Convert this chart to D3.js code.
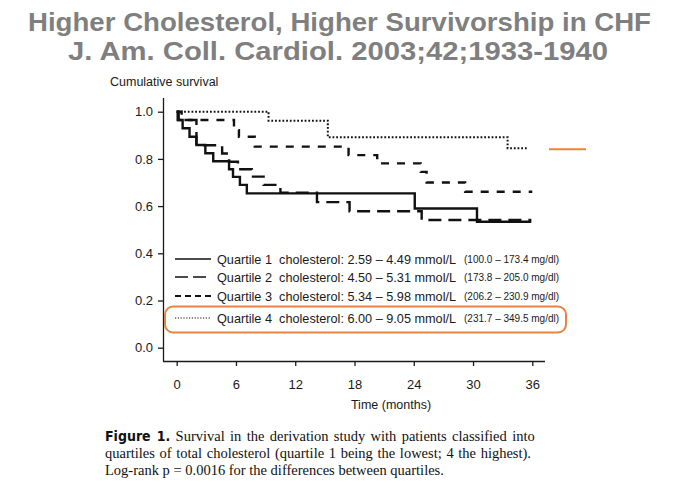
<!DOCTYPE html>
<html>
<head>
<meta charset="utf-8">
<script src="https://cdn.jsdelivr.net/npm/d3@7/dist/d3.min.js"></script>
<style>
  html, body { margin: 0; padding: 0; background: #fff; }
  svg { display: block; }
</style>
</head>
<body>
<svg id="chart" width="677" height="492"></svg>
<script>
// ---- Data ----
const titleLines = ["Higher Cholesterol, Higher Survivorship in CHF", "J. Am. Coll. Cardiol. 2003;42;1933-1940"];
const yLabel = "Cumulative survival";
const xLabel = "Time (months)";
const xTicks = [0, 6, 12, 18, 24, 30, 36];
const yTicks = [0.0, 0.2, 0.4, 0.6, 0.8, 1.0];

const q1Times = [0, 0.2, 0.6, 1.3, 2.0, 2.9, 3.7, 5.3, 5.7, 6.4, 7.1, 24.1, 30.4, 35.9];
const q1Surv  = [1.0, 0.965, 0.93, 0.894, 0.859, 0.824, 0.79, 0.756, 0.724, 0.69, 0.654, 0.59, 0.534, 0.534];
const q2Times = [0, 0.1, 2.0, 4.6, 5.3, 6.2, 7.6, 8.8, 10.5, 14.2, 17.5, 24.8, 35.9];
const q2Surv  = [1.0, 0.965, 0.858, 0.823, 0.788, 0.756, 0.725, 0.69, 0.657, 0.617, 0.578, 0.541, 0.541];
const q3Times = [0, 0.5, 5.8, 6.3, 7.9, 17.4, 20.3, 24.7, 25.3, 29.2, 36.0];
const q3Surv  = [1.0, 0.965, 0.922, 0.894, 0.852, 0.816, 0.781, 0.745, 0.70, 0.661, 0.661];
const q4Times = [0, 9.3, 15.3, 33.5, 35.6];
const q4Surv  = [1.0, 0.962, 0.892, 0.845, 0.845];

const quartileNames = ["Quartile 1", "Quartile 2", "Quartile 3", "Quartile 4"];
const mmolRanges = ["cholesterol: 2.59 \u2013 4.49 mmol/L", "cholesterol: 4.50 \u2013 5.31 mmol/L", "cholesterol: 5.34 \u2013 5.98 mmol/L", "cholesterol: 6.00 \u2013 9.05 mmol/L"];
const mgRanges = ["(100.0 \u2013 173.4 mg/dl)", "(173.8 \u2013 205.0 mg/dl)", "(206.2 \u2013 230.9 mg/dl)", "(231.7 \u2013 349.5 mg/dl)"];

const captionBold = "Figure 1.";
const captionLines = [
  " Survival in the derivation study with patients classified into",
  "quartiles of total cholesterol (quartile 1 being the lowest; 4 the highest).",
  "Log-rank p = 0.0016 for the differences between quartiles."
];

// ---- Build ----
const series = [
  {times: q1Times, surv: q1Surv, dash: null, width: 2.4, lw: 1.6, ldash: null},
  {times: q2Times, surv: q2Surv, dash: "13,7", width: 2.4, lw: 1.6, ldash: "13,5"},
  {times: q3Times, surv: q3Surv, dash: "8,8", width: 2.4, lw: 1.8, ldash: "6,4"},
  {times: q4Times, surv: q4Surv, dash: "1.8,1.9", width: 2.0, lw: 1.1, ldash: "1.2,1.6"}
];

const svg = d3.select("#chart");
svg.append("rect").attr("width", 677).attr("height", 492).attr("fill", "#fff");

const x = d3.scaleLinear().domain([0, 36]).range([176.7, 532.3]);
const y = d3.scaleLinear().domain([0, 1]).range([347.7, 111.7]);

const ink = "#1a1a1a";
const sans = "Liberation Sans, Arial, Helvetica, sans-serif";

// Title
const titleWidths = [623, 540];
svg.selectAll("text.title").data(titleLines).enter().append("text")
  .attr("class", "title")
  .attr("x", (d, i) => i === 0 ? 28 : 68)
  .attr("y", (d, i) => 31 + i * 29)
  .attr("font-family", sans)
  .attr("font-weight", "bold")
  .attr("font-size", 26.5)
  .attr("fill", "#7f7f7f")
  .attr("textLength", (d, i) => titleWidths[i])
  .attr("lengthAdjust", "spacingAndGlyphs")
  .text(d => d);

// Y label
svg.append("text").attr("x", 110).attr("y", 86)
  .attr("font-family", sans).attr("font-size", 12.5).attr("fill", ink)
  .text(yLabel);

// Axes
const xAxis = d3.axisBottom(x).tickValues(xTicks).tickSize(5).tickPadding(14).tickFormat(d3.format("d"));
const gx = svg.append("g").attr("transform", "translate(0,361)").call(xAxis);
gx.select(".domain").attr("d", `M163,0.5H545`);
const yAxis = d3.axisLeft(y).tickValues(yTicks).tickSize(5).tickPadding(5).tickFormat(d3.format(".1f"));
const gy = svg.append("g").attr("transform", "translate(163,0)").call(yAxis);
gy.select(".domain").attr("d", `M0.5,98V361.5`);
[gx, gy].forEach(g => {
  g.selectAll(".domain").attr("stroke", ink).attr("stroke-width", 1.3);
  g.selectAll(".tick line").attr("stroke", ink).attr("stroke-width", 1.3);
  g.selectAll(".tick text").attr("font-family", sans).attr("font-size", 13).attr("fill", ink);
});

svg.append("text").attr("x", 391).attr("y", 409).attr("text-anchor", "middle")
  .attr("font-family", sans).attr("font-size", 12.5).attr("fill", ink)
  .text(xLabel);

// Curves
const line = d3.line().x(d => x(d[0])).y(d => y(d[1])).curve(d3.curveStepAfter);
series.forEach(s => {
  const pts = s.times.map((t, i) => [t, s.surv[i]]);
  svg.append("path").attr("d", line(pts))
    .attr("fill", "none").attr("stroke", "#111")
    .attr("stroke-width", s.width)
    .attr("stroke-dasharray", s.dash)
    .attr("stroke-linejoin", "miter");
});

// Legend
const legendRows = [259, 277, 296, 318];
quartileNames.forEach((q, i) => {
  const yy = legendRows[i];
  svg.append("line").attr("x1", 175).attr("x2", 211).attr("y1", yy).attr("y2", yy)
    .attr("stroke", "#111").attr("stroke-width", series[i].lw)
    .attr("stroke-dasharray", series[i].ldash);
  svg.append("text").attr("x", 217).attr("y", yy + 4.5)
    .attr("font-family", sans).attr("font-size", 12.7).attr("fill", ink)
    .attr("xml:space", "preserve")
    .text(q + "  " + mmolRanges[i]);
  svg.append("text").attr("x", 464).attr("y", yy + 4)
    .attr("font-family", sans).attr("font-size", 10).attr("fill", ink)
    .text(mgRanges[i]);
});

// Orange highlight box and marker
svg.append("rect").attr("x", 165).attr("y", 306.5).attr("width", 401).attr("height", 26)
  .attr("rx", 8).attr("ry", 8).attr("fill", "none")
  .attr("stroke", "#e8843f").attr("stroke-width", 2);
svg.append("line").attr("x1", 549).attr("x2", 586).attr("y1", y(0.845) + 1).attr("y2", y(0.845) + 1)
  .attr("stroke", "#f0803a").attr("stroke-width", 2);

// Caption
const serif = "Liberation Serif, Times New Roman, serif";
const capY = [441, 458, 475];
const capTargets = [428, 426, null];
captionLines.forEach((c, i) => {
  const t = svg.append("text").attr("x", 105).attr("y", capY[i])
    .attr("font-family", serif).attr("font-size", 14.5).attr("fill", "#111");
  if (i === 0) {
    t.append("tspan").attr("font-family", "Liberation Sans Narrow, DejaVu Sans Condensed, Arial Narrow, sans-serif")
      .attr("font-weight", "bold").attr("font-size", 14).text(captionBold);
  }
  t.append("tspan").text(c);
  if (capTargets[i]) {
    const w = t.node().getComputedTextLength();
    const nSpaces = (c.match(/ /g) || []).length;
    if (nSpaces > 0) {
      const ws = (capTargets[i] - w) / nSpaces;
      t.attr("word-spacing", ws);
    }
  }
});
</script>
</body>
</html>
